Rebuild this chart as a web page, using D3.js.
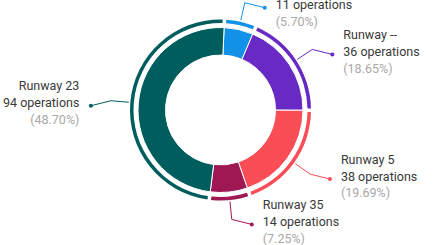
<!DOCTYPE html>
<html>
<head>
<meta charset="utf-8">
<script src="https://cdn.jsdelivr.net/npm/d3@7"></script>
<style>
  html, body { margin: 0; padding: 0; background: #fff; }
  #chart { width: 436px; height: 245px; overflow: hidden; }
  text { font-family: Roboto, 'Noto Sans', sans-serif; font-size: 12.5px; }
</style>
</head>
<body>
<div id="chart"></div>
<script>
// data
const categories = ['Runway 17', 'Runway --', 'Runway 5', 'Runway 35', 'Runway 23'];
const operations = [11, 36, 38, 14, 94];
const colors = ['#1192e8', '#6929c4', '#fa4d56', '#9f1853', '#005d5d'];

const width = 436;
const height = 245;
const cx = 220.5;
const cy = 110;
const innerR = 55;
const outerR = 82.5;
// angle offset of the first slice
const offset = 2.5 * Math.PI / 180;

const total = d3.sum(operations);
const data = categories.map((c, i) => ({
  name: c,
  value: operations[i],
  color: colors[i],
  pct: (operations[i] / total * 100).toFixed(2) + '%'
}));

const svg = d3.select('#chart')
  .append('svg')
  .attr('width', width)
  .attr('height', height);

const g = svg.append('g').attr('transform', `translate(${cx}, ${cy})`);

const pie = d3.pie()
  .value(d => d.value)
  .sort(null)
  .startAngle(offset)
  .endAngle(offset + 2 * Math.PI);

const arcs = pie(data);

const arc = d3.arc().innerRadius(innerR).outerRadius(outerR);
const ring = d3.arc().innerRadius(87).outerRadius(90.5).padAngle(0.04).padRadius(89);

// main slices
g.selectAll('path.slice')
  .data(arcs)
  .join('path')
  .attr('class', 'slice')
  .attr('d', arc)
  .attr('fill', d => d.data.color)
  .attr('stroke', '#fff')
  .attr('stroke-width', 1);

// outer thin ring
g.selectAll('path.ring')
  .data(arcs)
  .join('path')
  .attr('class', 'ring')
  .attr('d', ring)
  .attr('fill', d => d.data.color);

// polar helper
const polar = (a, r) => [r * Math.sin(a), -r * Math.cos(a)];

// callouts
arcs.forEach(d => {
  const mid = (d.startAngle + d.endAngle) / 2;
  const right = Math.sin(mid) >= 0;
  const p0 = polar(mid, 92);
  const p1 = polar(mid, 110);
  const dot = [p1[0] + (right ? 20 : -20), p1[1] + 5];

  g.append('polyline')
    .attr('points', [p0, p1, dot].map(p => p.join(',')).join(' '))
    .attr('fill', 'none')
    .attr('stroke', d.data.color)
    .attr('stroke-width', 1);

  g.append('circle')
    .attr('cx', dot[0])
    .attr('cy', dot[1])
    .attr('r', 2)
    .attr('fill', d.data.color);

  const tx = dot[0] + (right ? 11 : -11.5);
  const lines = [
    { t: d.data.name, c: '#393939' },
    { t: `${d.data.value} operations`, c: '#393939' },
    { t: `(${d.data.pct})`, c: '#a8a8a8' }
  ];
  g.append('g')
    .selectAll('text')
    .data(lines)
    .join('text')
    .attr('x', tx)
    .attr('y', (l, i) => dot[1] + 1.5 + (i - 1) * 16.8)
    .attr('text-anchor', right ? 'start' : 'end')
    .attr('fill', l => l.c)
    .text(l => l.t);
});
</script>
</body>
</html>
